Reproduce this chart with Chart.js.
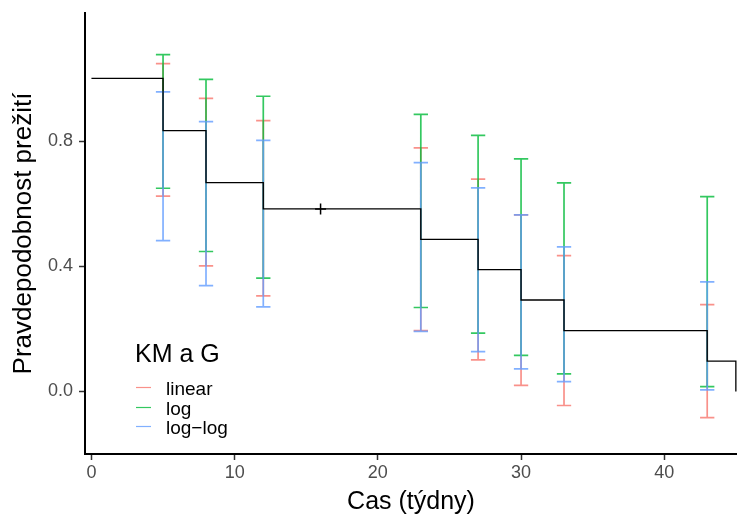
<!DOCTYPE html>
<html><head><meta charset="utf-8">
<script src="https://cdn.jsdelivr.net/npm/chart.js@4/dist/chart.umd.min.js"></script>
<style>html,body{margin:0;padding:0;background:#fff;} #wrap{width:737px;height:519px;position:relative;}</style>
</head><body><div id="wrap"><canvas id="c" width="737" height="519"></canvas></div>
<script>
// Kaplan-Meier estimate (step function)
const kmTimes = [0, 5, 8, 12, 23, 27, 30, 33, 43, 45];
const kmSurv  = [1.0, 0.833, 0.667, 0.583, 0.486, 0.389, 0.292, 0.194, 0.097, 0.0];
// censored observations
const censorTimes = [16];
const censorSurv  = [0.583];
// confidence intervals at event times
const ciTimes     = [5, 8, 12, 23, 27, 30, 33, 43];
const linearLower = [0.624, 0.401, 0.305, 0.194, 0.101, 0.019, -0.045, -0.084];
const linearUpper = [1.047, 0.936, 0.865, 0.778, 0.678, 0.564, 0.434, 0.277];
const logLower    = [0.649, 0.447, 0.362, 0.268, 0.186, 0.115, 0.056, 0.015];
const logUpper    = [1.076, 0.997, 0.943, 0.885, 0.818, 0.743, 0.666, 0.622];
const loglogLower = [0.482, 0.338, 0.270, 0.192, 0.127, 0.072, 0.031, 0.005];
const loglogUpper = [0.957, 0.862, 0.802, 0.731, 0.650, 0.564, 0.462, 0.350];
const seriesNames = ['linear', 'log', 'log\u2212log'];
const legendTitle = 'KM a G';
const xTicks = [0, 10, 20, 30, 40];
const yTicks = [0.0, 0.4, 0.8];
const xTitle = 'Cas (týdny)';
const yTitle = 'Pravdepodobnost prežití';

const seriesColors = ['rgba(248,118,109,0.8)', 'rgba(0,186,56,0.8)', 'rgba(97,156,255,0.8)'];
const CAP = 0.5;
const FONT = "'Liberation Sans', Arial, sans-serif";

function barPoints(lo, hi) {
  const pts = [];
  ciTimes.forEach((t, i) => {
    pts.push({x: t, y: lo[i]}, {x: t, y: hi[i]}, {x: t, y: null});
    pts.push({x: t - CAP, y: lo[i]}, {x: t + CAP, y: lo[i]}, {x: t, y: null});
    pts.push({x: t - CAP, y: hi[i]}, {x: t + CAP, y: hi[i]}, {x: t, y: null});
  });
  return pts;
}
const ciSets = [[linearLower, linearUpper], [logLower, logUpper], [loglogLower, loglogUpper]];

const datasets = [
  {
    label: 'KM', type: 'line',
    data: kmTimes.map((t, i) => ({x: t, y: kmSurv[i]})),
    stepped: true, borderColor: '#000', borderWidth: 1.3, pointRadius: 0, fill: false, order: 0
  },
  {
    label: 'censor', type: 'scatter',
    data: censorTimes.map((t, i) => ({x: t, y: censorSurv[i]})),
    pointStyle: 'cross', pointRadius: 5.5, borderColor: '#000', borderWidth: 1.5, order: 0
  }
];
ciSets.forEach((s, k) => {
  datasets.push({
    label: seriesNames[k], type: 'line',
    data: barPoints(s[0], s[1]),
    borderColor: seriesColors[k], borderWidth: 1.7, pointRadius: 0, spanGaps: false, fill: false,
    order: 3 - k
  });
});

const legendPlugin = {
  id: 'kmLegend',
  afterDraw(chart) {
    const ctx = chart.ctx;
    const a = chart.chartArea;
    ctx.save();
    ctx.fillStyle = '#000';
    ctx.textBaseline = 'alphabetic';
    ctx.textAlign = 'left';
    ctx.font = '25px ' + FONT;
    const x0 = a.left + 50;
    ctx.fillText(legendTitle, x0, 362);
    const ys = [387.5, 407.5, 426.5];
    ctx.font = '19px ' + FONT;
    seriesNames.forEach((n, k) => {
      ctx.strokeStyle = seriesColors[k];
      ctx.lineWidth = 1.2;
      ctx.beginPath();
      ctx.moveTo(x0 + 1, ys[k]);
      ctx.lineTo(x0 + 16, ys[k]);
      ctx.stroke();
      ctx.fillStyle = '#000';
      ctx.fillText(n, x0 + 31, ys[k] + 7.5);
    });
    ctx.restore();
  }
};

new Chart(document.getElementById('c'), {
  type: 'line',
  data: {datasets},
  plugins: [legendPlugin],
  options: {
    responsive: false, animation: false,
    layout: {autoPadding: false, padding: {top: 13, right: 0, left: 0, bottom: 0}},
    plugins: {legend: {display: false}, tooltip: {enabled: false}},
    scales: {
      x: {
        type: 'linear', min: -0.45, max: 45.08,
        afterBuildTicks: s => { s.ticks = xTicks.map(v => ({value: v})); },
        afterFit: s => { s.height = 65; s.paddingLeft = 0; s.paddingRight = 0; },
        grid: {drawOnChartArea: false, drawTicks: true, tickLength: 6, tickColor: '#333', tickWidth: 1.5},
        border: {display: true, color: '#000', width: 2},
        ticks: {color: '#4D4D4D', font: {family: FONT, size: 18}, padding: 2, maxRotation: 0,
                callback: v => String(v)},
        title: {display: true, text: xTitle, color: '#000', font: {family: FONT, size: 25}, padding: {top: 0, bottom: 2}}
      },
      y: {
        type: 'linear', min: -0.2, max: 1.209,
        afterBuildTicks: s => { s.ticks = yTicks.map(v => ({value: v})); },
        afterFit: s => { s.width = 85; s.paddingTop = 0; s.paddingBottom = 0; },
        grid: {drawOnChartArea: false, drawTicks: true, tickLength: 6, tickColor: '#333', tickWidth: 1.5},
        border: {display: true, color: '#000', width: 2},
        ticks: {color: '#4D4D4D', font: {family: FONT, size: 18}, padding: 6,
                callback: v => v.toFixed(1)},
        title: {display: true, text: yTitle, color: '#000', font: {family: FONT, size: 26}, padding: {top: 8, bottom: 0}}
      }
    }
  }
});
</script></body></html>
